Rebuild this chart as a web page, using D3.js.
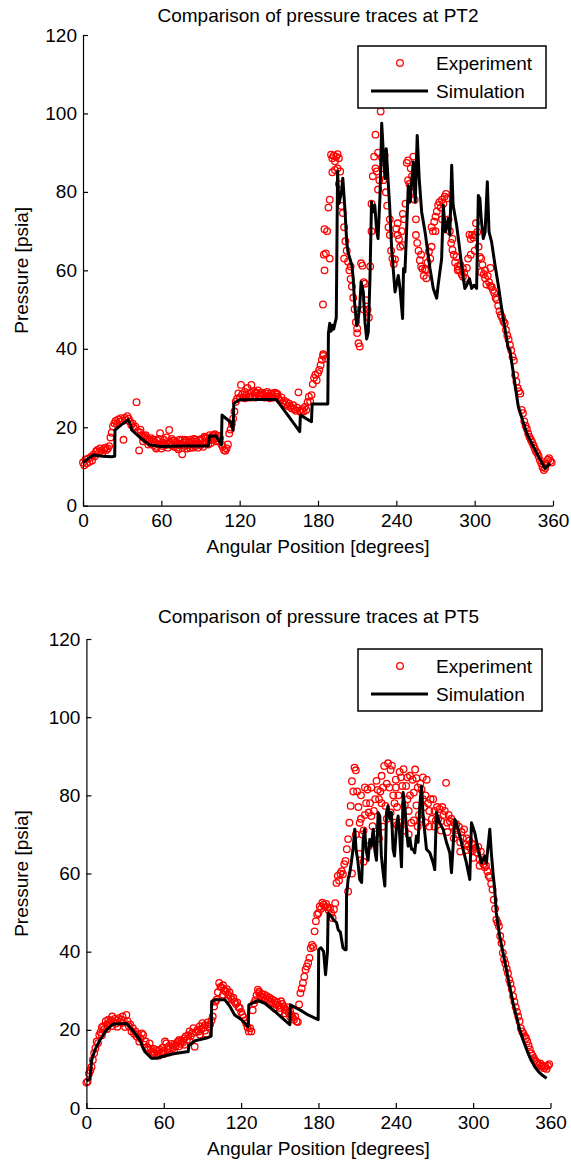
<!DOCTYPE html>
<html>
<head>
<meta charset="utf-8">
<script src="https://cdn.jsdelivr.net/npm/d3@7"></script>
<style>
  html, body { margin: 0; padding: 0; background: #fff; }
  svg { display: block; }
  text { font-family: "Liberation Sans", Arial, sans-serif; fill: #000; }
</style>
</head>
<body>
<svg id="chart" width="571" height="1164"></svg>
<script>
// ---- data ----
const xTicks = [0, 60, 120, 180, 240, 300, 360];
const yTicks = [0, 20, 40, 60, 80, 100, 120];
const titles = ["Comparison of pressure traces at PT2", "Comparison of pressure traces at PT5"];
const legendLabels = ["Experiment", "Simulation"];

// experiment, one reading per degree (0..359)
const pt2Exp = [
  11,10.3,11.8,10.8,12,11.2,12.4,11.5,13,12.6,
  13.8,14.2,13.4,14.6,14,13.6,14.4,14.8,14.2,14.6,
  15.2,17.4,18.6,20.2,21,21.6,20.8,22,21.4,22.3,
  21.6,16.8,22.4,21.8,22.8,22.2,21.4,20.6,21,19.8,
  20.2,26.4,19,14.1,18.6,18,17.4,17.8,16.8,17.2,
  16.4,16.8,15.8,16.4,15.4,16.2,15,16.6,15.6,18.5,
  16,15.2,16.8,15.4,16.2,14.8,19.3,16,15.4,16.6,
  15,16.2,15.6,14.4,16.8,15.8,13.1,16,15.2,16.6,
  15.4,16.2,14.8,16.4,15.6,17,15.2,16.4,15.8,16.8,
  15.4,17,16,17.6,16.2,17.2,16.6,18,17,17.8,
  16.8,18.2,17.2,17.8,16.4,17.2,15.6,15,14.2,14,
  14.6,15.6,18.4,19.4,20.8,22.2,24,26.5,27.2,28.6,
  27.6,30.8,28.4,27.6,29,28.2,30,27.8,28.8,30.8,
  28,29.2,27.6,28.6,29.4,28.2,27.8,28.8,28.4,27.6,
  28.6,29,28,27.4,28.6,28.2,27.6,28.8,27.8,28.4,
  27.2,26.8,27.6,26.2,26.8,25.8,26.4,25.4,26,25.2,
  24.8,25.6,24.6,24.2,25,28.9,24.2,23.8,24.6,24,
  25.2,24.4,26.4,27.8,26.6,28.2,31,32.6,33.4,32,
  33.8,34.6,35.8,37.2,38.2,60,64.3,70,76,78,
  89.5,88.6,89.2,87.8,89,86,88.6,85.2,76.4,74.6,
  71,67.4,65,62.2,60,57.8,55.9,53,50.1,46.8,
  45.2,41.4,40.6,61.8,61.2,57,56.6,52.4,50,48,
  61,70,84,89,94.6,85.2,80.6,83,100.5,88.8,
  86,89.4,79.9,76.5,71,69,65,63,61.6,62.8,
  70.6,72,68,66,70,66.4,73,77,87.4,83,
  82,86,84,89,78,69,67,65,62.6,64,
  60.4,58.6,60.2,60.1,62,64.8,63,66,70,72.4,
  73.7,75,76.6,77.4,76,78,77,78.8,79.5,78.4,
  73,70,67,65.2,64,62,63.4,61,60.2,61.4,
  59,58.4,59.4,58,60.6,63,69.1,68,69,68.4,
  69,72,69.8,66,63.4,63,61.4,59,58,56.4,
  58.6,57,56,55.8,55,54.2,53,52.5,51,49.6,
  48.6,48,47,46.5,44.8,43.4,42.4,41,39.6,38,
  37,33.3,31.6,30,29.2,28.6,24.4,23.6,21.5,20.4,
  19.6,18.4,17.5,16.8,16.2,15.4,14.6,13.8,13.4,12.6,
  11.6,10.8,9.8,9.1,9.6,10.6,11.7,12.1,11.4,11
];
// extra experiment readings [deg, psia] where the cloud is thicker
const pt2ExpExtra = [
  [44,19.4],[46,16.4],[48,18],[50,15.6],[52,17.2],[54,16.8],[56,14.6],[58,17],[60,14.6],[62,15.6],
  [64,17.4],[66,15.6],[68,17],[70,16.6],[72,14.8],[74,15.4],[76,16.8],[78,16.8],[80,14.6],[82,16.8],
  [84,14.8],[86,16.8],[88,14.8],[90,16.6],[92,15],[94,17.4],[96,15.6],[98,16],[100,18],[102,16.4],
  [104,17.8],[124,27.4],[128,27.6],[132,28.8],[136,28.8],[140,27.8],[144,27.6],[148,28.6],
  [183.8,51.3],[184,38.6],[184.5,64],[185,70.5],[186,37.5],[189,63],[191,85],[193,85.6],[195,89.6],
  [196,82],[200,63],[205,61],[210,44],[215,50],[221,77],[224,86],[226,90],[230,83],[235,73],
  [241,69],[245,74.4],[249,88],[251,80],[255,73],[259,61],[263,58],[267,71],[270,70],[275,73],
  [283,68],[287,60],[291,60.5],[297,64],[300,65],[305,59.6],[308,60],[312,60.6]
];
// simulation [deg, psia]
const pt2Sim = [
  [0,11],[4,12],[8,12.9],[15,12.6],[22,12.5],[24.3,12.6],[24.5,19.3],[30,20.8],[34.7,21.9],[36,21],
  [37.3,19.3],[44,17.3],[51,15.5],[60,15.1],[75,15.2],[96,15.2],[97,17.8],[102,17.8],[106,15.5],
  [106.5,23.1],[112.6,21.4],[115,19.3],[115.5,26.1],[120,27],[135,27.1],[148,27.1],[157,23],
  [166,18.9],[166.5,23.1],[175,21.4],[175.5,25.9],[187.5,25.9],[188,44],[189,46.5],[190,44.5],
  [191,46],[192,45],[194,47.9],[195,85.2],[196,77],[198,80],[199,83.5],[200.6,75.7],[202,67.2],
  [203,64.6],[204.5,62.9],[206,61.2],[207,57.8],[208,51.9],[209.6,45.9],[210.5,46.8],[212,51],
  [213,57],[214.7,54.5],[216,46.8],[217.3,42.5],[218.5,44.2],[219.8,57.8],[221,77.4],[222,74.9],
  [223.5,76.6],[225,69.8],[226,68.1],[227.5,79.1],[228.8,97.5],[230,90.2],[231.3,83.4],[232.3,91],
  [233.9,81.7],[235,75.7],[236.4,65.6],[237.7,60],[239,54.5],[241.5,58.7],[242.8,55.4],[244.8,47.7],
  [245.5,60.4],[246.6,59.6],[249.2,81.6],[250.5,77.4],[253,87.6],[254.5,77.4],[256,94.4],[257.5,83.4],
  [259.4,74.9],[262,69.8],[265.8,60.4],[268.3,55.4],[270.9,52.9],[272,56.2],[274.7,63],[276,76.6],
  [277.5,69.8],[279.8,73.2],[281,69],[282.4,86.8],[283.5,76.6],[286.2,71.5],[288.8,64.6],[291.3,57.9],
  [292.5,55.4],[293.9,56.2],[296,57.9],[297.7,55.4],[299.5,56.2],[301.5,55.4],[302.8,79.1],[304,78.3],
  [305,73.2],[306.6,68.1],[308,69.8],[309.7,82.6],[311,69.8],[313,67.2],[315.6,61.3],[318.1,56.2],
  [320.7,50.2],[323.2,45.1],[325.8,40],[327,39.7],[333.4,25.3],[339.8,18.5],[347.5,13.4],
  [353.9,9.5],[357.7,10.8]
];

const pt5Exp = [
  6.5,6.8,8.8,9.6,10.5,12.3,14,15.3,17,16.6,
  18.7,19.4,18.6,20.9,20.2,22.2,21.4,22.6,21.8,22.4,
  23.4,22,22.8,21.6,22.4,23,22,22.6,21.8,22.4,
  20.7,23.8,22.2,20.9,21.4,19.6,20.4,19,19.6,18.3,
  18.8,17,17.8,19.1,18.7,16.2,17,15.6,15.3,16.5,
  15,14.4,15.2,14,14.8,13.8,14.6,14.9,14.2,15.4,
  14.6,17,16.5,15,15.8,15.3,16.4,15.3,16.2,15.8,
  16.6,17,17.4,16.4,17.2,16.8,17.8,18.3,17.4,18.6,
  19.6,18.4,19.2,20.4,15.7,19.4,20,19.6,20.9,20.2,
  21.7,20.6,21.2,19,21.9,20.8,21.4,22.4,23.4,26,
  27.2,27.7,29.6,32,31,30.8,31.4,30.2,29.8,30.4,
  29,29.6,28.4,27.7,28.2,27.2,26.6,27,25.8,25.6,
  24.6,23.8,23.2,22.4,21.6,20.6,19.6,20.4,19.6,25,
  26.8,27.6,28.8,30.3,29.4,28.6,29.2,28.4,29,28,
  28.6,27.7,28.2,27.2,27.8,26.8,27.4,26.4,27,26.2,
  25.6,27.3,26.6,26,25.4,25,25.8,24.3,24.8,23.8,
  23.2,22.6,23.4,22.2,22,26.5,29.4,30.6,32,33.6,
  35.4,36.2,37.1,38.4,40.9,41.7,41.2,45.2,47.8,49.5,
  49.9,51.6,51,52.5,52,51.4,52.2,51.4,50.6,51.2,
  49.8,48.6,50.8,52.4,57.6,59.4,58.2,60,60.6,59.8,
  62.4,63.2,66.2,68.8,73,77.3,83.6,81,87.1,86.4,
  81,77,73,74,70,71,75,78,81.5,75.6,
  78,74.7,72.1,76,79,83.7,81.4,79,81,78,
  82,87.5,77.3,83,88.2,82,75.6,87.6,80,78,
  82,77,80,86,84.6,82.4,86.7,77.5,82.4,79,
  76,80,73,84,80.7,86.6,77.4,82,75,83,
  81.5,79,77,80,84,78,76,79,74,79,
  76,73.6,77,74,76.5,73.4,77,75,76,83.2,
  73,75,73.4,74,72,73,71,72.6,70,72,
  68,70.6,69,71.3,67.4,69,67,68.4,66.4,67.6,
  66,67.4,66.6,65.4,66.8,63.6,65.6,63,62.4,61.6,
  62,60.6,59.4,59,57.4,55.9,53.3,51,48.2,47.4,
  46.5,44,42.2,39.7,38,37,35.6,34.5,32.8,31.8,
  30.4,28.6,27.2,25.8,24.6,23.4,22.2,20.4,19.6,19,
  18.4,17.9,17,16,15,14,13.4,12.8,12.2,11.8,
  11.4,11,11.4,10.6,10.8,10.2,10.6,10,10.8,11.2
];
const pt5ExpExtra = [
  [203,55.4],[206,60],[209,70],[212,65],[213,80],[215,63],[216,82],[219,67],[221,82],[224,70],
  [227,69],[229,85],[230,72],[233,74],[236,86.5],[239,73],[240,84],[241,72.4],[244,73],[247,71],
  [249,84.6],[250,70],[251,85],[254,73.6],[256,84.4],[257,72],[260,74],[261,84.6],[263,73],[266,72],
  [270,72],[275,71],[280,70.6],[285,69],[290,65.6],[295,66],[300,64],[305,62],
  [12,20.6],[16,20.2],[20,21],[24,20.8],[28,23.4],[52,13.6],[56,13.4],[60,13.8],[64,14.2],[68,14.6],
  [72,15.8],[76,16.2],[80,17.2],[88,18.8],[92,19.8],[106,29],[110,28],[134,29.8],[138,27.6],
  [142,26.8],[146,25.6],[150,24.6],[154,24.2],[158,23.4]
];
const pt5Sim = [
  [0,7],[2.8,7.4],[4.1,12.3],[6.7,14.9],[10.5,17.4],[15.7,20],[20.9,21.5],[31.2,21.6],[35.1,20.2],
  [41.6,17.4],[44,15.3],[45.4,14.4],[50.6,12.7],[54.5,12.7],[57,13],[64.8,13.7],[70,14],[77.7,14.4],
  [79,14.4],[79.5,16],[84.2,17.2],[93.2,17.9],[96.8,18.4],[97.2,27.3],[100.5,27.7],[107.4,27.7],
  [111.3,26],[115,23.8],[120.4,22.6],[125.5,20.8],[126,26.4],[133,27.5],[138.4,26.8],[146.2,24.7],
  [152,23],[157.8,21.3],[158.2,26.4],[165.6,25.1],[172,23.8],[179.8,22.6],[180.2,40.5],[182,41],
  [184,40],[185.5,34.1],[187,40],[187.5,49.9],[190,49],[192,48],[194,47.5],[195.3,45.6],[197,45],
  [199,41],[200.5,40.5],[201.5,40.5],[201.8,54.2],[203,58.5],[204.3,60.2],[205.5,62.8],[206.8,66.2],
  [208.2,71.3],[209.2,66],[210.5,63.4],[212,58.5],[213.5,57.7],[214.7,68.7],[215.8,71.3],[217,66],
  [218.5,63.4],[219.8,68.7],[221,67],[222.5,71.3],[223.7,66],[225,63.4],[226.3,75.6],[227.6,74.7],
  [228.8,64.5],[230.2,60.2],[231.5,56.8],[232.8,75.6],[234,77.3],[235.3,74],[236.6,75.6],[237.9,66.2],
  [239,64.5],[240.5,72],[241.8,74.7],[243,70],[244.4,61.7],[245.7,80.7],[247,77.3],[248.3,71.3],
  [249.6,67],[250.9,69],[252.2,66.2],[253.4,66.2],[254.7,65.3],[256,69.6],[257.3,68],[258.6,77.3],
  [260,82.4],[261.2,74.7],[262.5,70.4],[263.8,66.2],[266.4,65.3],[269,62.7],[270.2,61],[271.5,75.6],
  [274,73],[276.7,71.3],[279.3,68],[281.9,65.3],[283.2,60.2],[285.7,73.8],[287,73],[289.6,69.6],
  [292.2,66.2],[294.8,62.7],[297.4,58.5],[298.7,73],[301.3,70.4],[303.8,66.2],[306.4,62.7],[309,64.5],
  [310.3,62.7],[312.9,71.3],[314.1,65.3],[315.4,60.2],[316.7,56],[318,49.9],[320.6,43.9],[323.2,39.7],
  [325.8,35.4],[328.4,31.1],[331,26.8],[333.6,23.4],[336.1,20],[338.7,17.4],[342,14.5],[345,12.2],
  [348,10.4],[351,9.2],[354,8.3],[357,7.6]
];

// ---- layout ----
const panels = [
  { title: titles[0], exp: pt2Exp, extra: pt2ExpExtra, sim: pt2Sim,
    left: 83, right: 553, top: 35, bottom: 505.7, titleY: 21.5, legend: { x: 358, y: 46, w: 188, h: 62 } },
  { title: titles[1], exp: pt5Exp, extra: pt5ExpExtra, sim: pt5Sim,
    left: 86.4, right: 550.5, top: 639, bottom: 1108, titleY: 623, legend: { x: 358, y: 649, w: 184, h: 62 } }
];

const svg = d3.select("#chart");
const FS = 19;

panels.forEach(p => {
  const x = d3.scaleLinear().domain([0, 360]).range([p.left, p.right]);
  const y = d3.scaleLinear().domain([0, 120]).range([p.bottom, p.top]);
  const g = svg.append("g");

  const pts = p.exp.map((v, i) => [i, v]).concat(p.extra);

  g.append("g").selectAll("circle")
    .data(pts)
    .join("circle")
    .attr("cx", d => x(d[0]))
    .attr("cy", d => y(d[1]))
    .attr("r", 3.3)
    .attr("fill", "none")
    .attr("stroke", "#ff0000")
    .attr("stroke-width", 1.3);

  const line = d3.line().x(d => x(d[0])).y(d => y(d[1]));
  g.append("path")
    .datum(p.sim)
    .attr("d", line)
    .attr("fill", "none")
    .attr("stroke", "#000")
    .attr("stroke-width", 3)
    .attr("stroke-linejoin", "round");

  // axes, inward ticks like matlab
  const xAxis = g.append("g")
    .attr("transform", `translate(0,${p.bottom})`)
    .call(d3.axisBottom(x).tickValues(xTicks).tickSize(-5).tickSizeOuter(0).tickPadding(8));
  const yAxis = g.append("g")
    .attr("transform", `translate(${p.left},0)`)
    .call(d3.axisLeft(y).tickValues(yTicks).tickSize(-5).tickSizeOuter(0).tickPadding(6));

  [xAxis, yAxis].forEach(a => {
    a.attr("font-size", null).attr("font-family", null);
    a.select(".domain").attr("stroke", "#000").attr("stroke-width", 1.2);
    a.selectAll(".tick line").attr("stroke", "#000").attr("stroke-width", 1.2);
    a.selectAll(".tick text").style("font-size", FS + "px").attr("fill", "#000");
  });

  const cx = (p.left + p.right) / 2;
  g.append("text")
    .attr("x", cx).attr("y", p.titleY)
    .attr("text-anchor", "middle")
    .style("font-size", FS + "px")
    .text(p.title);

  g.append("text")
    .attr("x", cx).attr("y", p.bottom + 47)
    .attr("text-anchor", "middle")
    .style("font-size", FS + "px")
    .text("Angular Position [degrees]");

  g.append("text")
    .attr("transform", `translate(28,${(p.top + p.bottom) / 2}) rotate(-90)`)
    .attr("text-anchor", "middle")
    .style("font-size", FS + "px")
    .text("Pressure [psia]");

  // legend
  const L = p.legend;
  const lg = g.append("g").attr("transform", `translate(${L.x},${L.y})`);
  lg.append("rect")
    .attr("width", L.w).attr("height", L.h)
    .attr("fill", "#fff").attr("stroke", "#000").attr("stroke-width", 1.5);
  lg.append("circle")
    .attr("cx", 42).attr("cy", 17).attr("r", 3.3)
    .attr("fill", "none").attr("stroke", "#ff0000").attr("stroke-width", 1.3);
  lg.append("line")
    .attr("x1", 13).attr("x2", 70).attr("y1", 45).attr("y2", 45)
    .attr("stroke", "#000").attr("stroke-width", 3);
  lg.selectAll("text.lab")
    .data(legendLabels)
    .join("text")
    .attr("class", "lab")
    .attr("x", 78)
    .attr("y", (d, i) => 17 + i * 28)
    .attr("dy", "0.35em")
    .style("font-size", FS + "px")
    .text(d => d);
});
</script>
</body>
</html>
